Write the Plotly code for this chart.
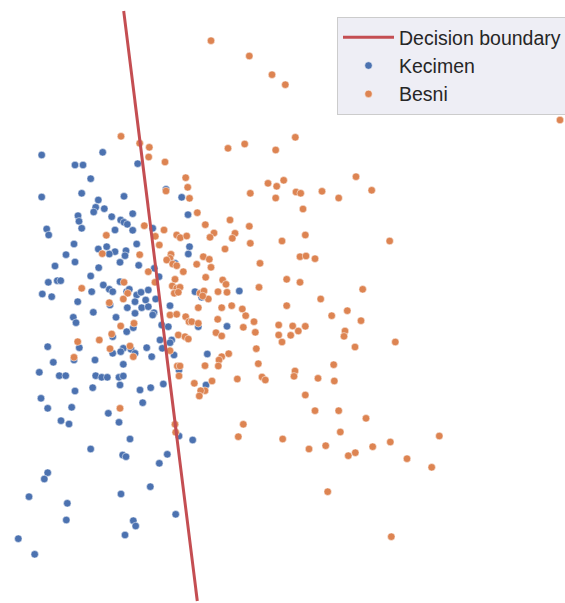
import plotly.graph_objects as go

# Values (pixel space of the original picture)
kecimen_x = [41.7,102.7,75,83,137.7,90.7,41.7,81.7,124,166,181.7,98.3,95.7,104.3,93.7,78,79,111.7,132.7,188,
             120.7,124,127.3,81.7,46.7,48.7,115,132.7,152.7,74,136.7,98.3,106.7,115,109.3,126,125,66,75,55,
             98.7,120,138.7,154.3,189.5,188.3,175,
             159,57.3,60.7,48.3,90.7,42.3,51.7,91.7,103.3,109.3,112.7,120,126.7,129.3,136.7,141,148.3,135,
             145.7,155.7,77.7,110,127.3,141.7,148.3,154,152.7,170,93.3,135,73.3,76,116,126.7,133.3,161.7,
             168.3,112.7,160,171.7,170,47.7,79.3,123.3,120.7,131,135,146.7,162.3,112.7,151.7,174,53.3,74,
             95,123.3,179,39.3,59.3,65.7,95.7,101.7,107.3,119,123.3,120,92.7,75,140,150.7,163.3,41,47.7,
             71.7,142.7,108.3,61,69,119,
             130,90.7,122.7,126,167.3,159.3,179,192.7,47.7,44.3,29,67.3,121,150.3,66.3,133.3,135.7,125,
             175.7,18.3,34.7,
             195,201.7,239.3,198.3,227,207.3,206]
kecimen_y = [155,152.3,165,165,163.7,178.7,197,193.3,196.3,189.3,197.3,200,207.3,208.7,212,215.7,221.3,216.7,213.7,214.7,
             220,222.3,224.3,228.3,229,235,230,230.3,228.3,244,244,249,246.7,251.7,254,250.7,255.7,254.7,262,266,
             267.7,262.3,265.3,268.3,246.7,254,263.3,
             276.7,280.7,280.7,282.3,276,294,296.7,291.7,285,289.3,291.7,281.7,291.7,289.3,295,292.3,290,301.7,
             300,299,301.7,305,307.7,307.7,306.7,312.7,315,305.7,312.3,313.3,317.3,322.7,317.3,331.7,327.7,325,
             326.7,336.7,340,340,342.7,346.7,347.7,348.3,351.7,349.3,353.3,347.7,348.3,353.3,356.7,355,362.3,360,
             360,364.3,370,372.3,375.7,375.7,375.7,377.3,377.3,377.3,376,385,387.7,391,390,387.7,384,398.3,408.3,
             407.3,402.7,413.3,420.7,424,422.3,
             439,449,455,456.7,454.3,463.3,436,440,472.7,479,496.7,503.3,494,486.7,520,520.7,526,535,
             514.3,538.7,554.3,
             291.7,297.3,291,326.7,326.3,354,385]

besni_x = [121,139.7,149.3,148.7,165,185.7,187.7,166,189.5,144.3,164,155.3,176.7,180.3,186.7,106.3,159.3,102.3,139.7,171,
           170,166.7,172.7,176.7,
           148.3,183.3,81.7,124,127.7,123.3,109.3,155,175,172.3,176.7,180,174.3,178.3,120.7,134,111.7,99.3,77.7,
           110,130,133.3,74,170,176.7,185.7,189,178.3,185,188.3,170,177.3,180,179,120,175,175.7,
           228,244.7,275.7,295.3,250.3,268,276.7,283.7,275.7,296,300.7,322,338.7,356,371.7,303,197.3,230,205.3,
           249.3,214,210,235,232.3,305.3,250.3,282,225,203.3,209.3,196.7,211,260,300,306,315,
           205.7,222.7,226,259,286.7,300,362.7,200,204,208.3,202.7,218,227,198.3,221.7,231.7,242.3,245.7,286.7,
           320.7,331.7,347.3,361,191.7,198.3,217.7,254,243.3,255.3,278.7,292.7,298.3,305.3,290.7,278.7,282,345,
           344,355,216,221.7,256.3,228.7,221.7,219,218.3,205,258.3,262,265.3,237.3,295,294,318,333.7,334.3,212,
           194.3,205,200.7,199.3,305.3,315,338.7,366,243.3,
           238.3,282.7,309,325.7,340.3,348.3,355.3,372.7,390.3,407,431.7,439.3,327.7,391.3,
           211,249.3,272,285.3,560,389.7,395.3]
besni_y = [136.3,143.3,147.3,157,162,177.7,187.3,191,198.3,225.7,230,236.3,235,237.7,236,235.3,245,253.7,254.7,254.3,
           258.3,260,264,265.7,
           271.7,271.7,288.3,282.3,293.3,299,302.7,282.3,279.3,286,288.3,287.3,293.3,292.3,326,323.3,334,340,341.7,
           348.7,346,356.7,357.3,315,314.3,316.7,321.7,335,336.7,339,350.7,366,366,376,408.3,424.3,432.3,
           148.3,144,150,137.3,193.3,183.3,186.3,180.3,198,192,193.3,191.3,198,176.7,190.3,209,212.7,220,224.7,
           226.3,233,237.3,233.3,238.3,235,243.3,241,249,256.7,259.3,264.3,267.3,263.3,256.7,256,258.7,
           277.3,280,284.3,287.3,279.3,282.3,289.3,293.3,291,299,296,291.7,292.3,307.7,307.7,305.7,309,315.7,305.7,
           299,315.7,310.7,320.7,321.7,323.3,319.3,321.7,327.3,332.3,325,326,331,326.3,335.3,335,342,331,
           336.3,347,332.7,336,348.7,353.7,356.7,360,366,365.7,363.7,377,380,379,371,376.3,378.3,364.7,381,381,
           383.3,390.7,390.7,396,395,410.7,410.7,418.3,424.3,
           436.7,439,449,445.7,432,455.7,452.7,446.7,442,458.7,467.3,436,491.7,536.7,
           40.7,56,74.7,84.7,120,241,342]

boundary_x = [123.7, 197.3]
boundary_y = [11, 601]

W, H = 580, 603  # figure slightly wider than the window so the legend can run off the right edge

fig = go.Figure()
fig.add_trace(go.Scatter(x=kecimen_x, y=kecimen_y, mode="markers", name="Kecimen",
                         marker=dict(color="#4c72b0", size=7.5, line=dict(color="white", width=0.5)),
                         legendrank=2))
fig.add_trace(go.Scatter(x=besni_x, y=besni_y, mode="markers", name="Besni",
                         marker=dict(color="#dd8452", size=7.5, line=dict(color="white", width=0.5)),
                         legendrank=3))
fig.add_trace(go.Scatter(x=boundary_x, y=boundary_y, mode="lines", name="Decision boundary",
                         line=dict(color="#c44e52", width=3), legendrank=1))

fig.update_layout(
    width=W, height=H,
    margin=dict(l=0, r=0, t=0, b=0),
    paper_bgcolor="white", plot_bgcolor="white",
    xaxis=dict(range=[0, W], visible=False, fixedrange=True),
    yaxis=dict(range=[H, 0], visible=False, fixedrange=True),
    font=dict(family="Liberation Sans, Arial, sans-serif", size=19.5, color="#262626"),
    legend=dict(x=337/W, y=1-17/H, xanchor="left", yanchor="top",
                bgcolor="rgba(234,234,242,0.8)", bordercolor="#cccccc", borderwidth=1,
                itemsizing="trace", itemwidth=51, traceorder="normal",
                font=dict(size=19.5, color="#262626")),
    showlegend=True,
)

fig.write_html("out.html",
               config={"displayModeBar": False},
               post_script="document.body.style.margin='0';document.body.style.overflow='hidden';")
